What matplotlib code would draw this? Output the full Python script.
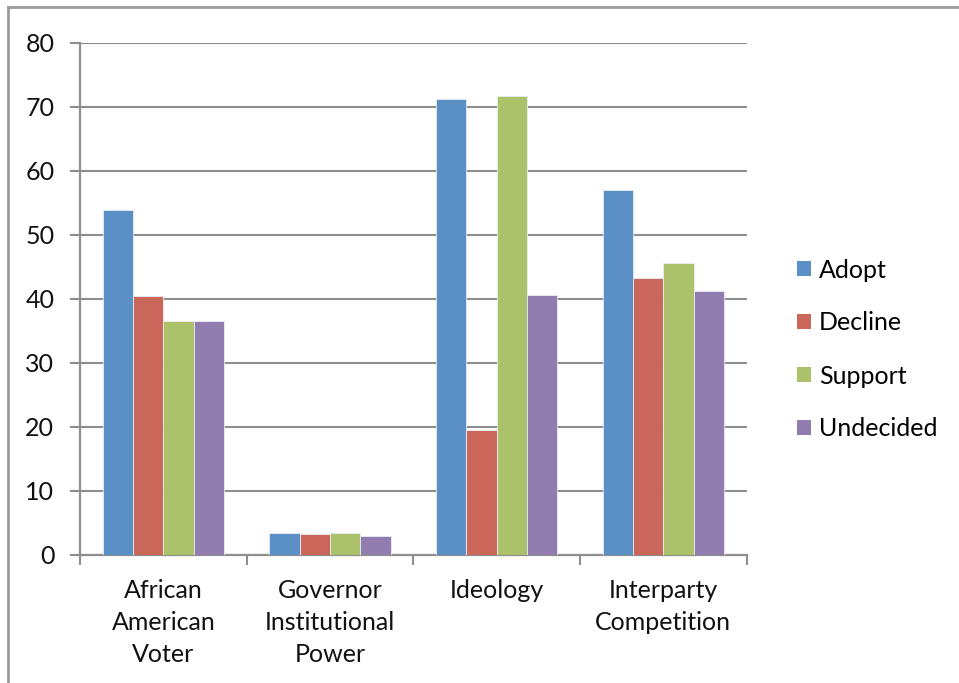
import matplotlib
matplotlib.use('Agg')
import matplotlib.pyplot as plt
import numpy as np
from matplotlib.patches import Patch
from matplotlib.lines import Line2D

plt.rcParams['font.family'] = ['Lato', 'DejaVu Sans']

categories = ['African\nAmerican\nVoter', 'Governor\nInstitutional\nPower',
              'Ideology', 'Interparty\nCompetition']
series = ['Adopt', 'Decline', 'Support', 'Undecided']
adopt     = [53.8, 3.5, 71.2, 57.0]
decline   = [40.4, 3.3, 19.5, 43.2]
support   = [36.5, 3.5, 71.6, 45.6]
undecided = [36.5, 3.0, 40.6, 41.2]
colors = ['#5b90c6', '#cb665b', '#abc26b', '#917cb0']

GRID = '#8e8e8e'
FS = 18

fig = plt.figure(figsize=(9.59, 6.83), dpi=100)
ax = fig.add_axes([80/959, 1-555/683, (746.7-80)/959, (555-42.5)/683])

x = np.arange(len(categories))
w = 1/5.5   # excel-style 150% gap width
for k, (vals, name) in enumerate(zip([adopt, decline, support, undecided], series)):
    ax.bar(x + (k-1.5)*w, vals, w, color=colors[k], edgecolor='#e8eef5',
           linewidth=0.6, label=name, zorder=3)

ax.set_xlim(-0.5, len(categories)-0.5)
ax.set_ylim(0, 80)
ax.set_yticks(range(0, 81, 10))
ax.yaxis.grid(True, color=GRID, lw=1.5, zorder=0)
ax.set_axisbelow(True)

# category labels centred, ticks on the boundaries
ax.set_xticks(x)
ax.set_xticklabels(categories, fontsize=FS, linespacing=1.48, color='#111')
ax.tick_params(axis='x', which='major', length=0, pad=17)
ax.set_xticks(np.arange(-0.5, len(categories), 1), minor=True)
ax.tick_params(axis='x', which='minor', length=7, width=1.5, color=GRID, direction='out')
ax.tick_params(axis='y', length=7.5, width=1.5, color=GRID, direction='out',
               labelsize=FS, pad=11, labelcolor='#111')

for s in ['top', 'right']:
    ax.spines[s].set_visible(False)
for s in ['left', 'bottom']:
    ax.spines[s].set_color(GRID)
    ax.spines[s].set_linewidth(1.6)

handles = [Patch(facecolor=c, edgecolor='none') for c in colors]
fig.legend(handles, series, loc='center left', bbox_to_anchor=(797/959, 1-349.5/683),
           frameon=False, fontsize=FS, handlelength=0.57, handleheight=0.57,
           handletextpad=0.3, labelspacing=1.2, borderpad=0, borderaxespad=0)

# chart-area border (top and left edges)
fig.add_artist(Line2D([8/959, 1], [1-7/683, 1-7/683], color='#9a9a9a', lw=2))
fig.add_artist(Line2D([8/959, 8/959], [0, 1-7/683], color='#9a9a9a', lw=2))

fig.savefig('out.png', dpi=100)
